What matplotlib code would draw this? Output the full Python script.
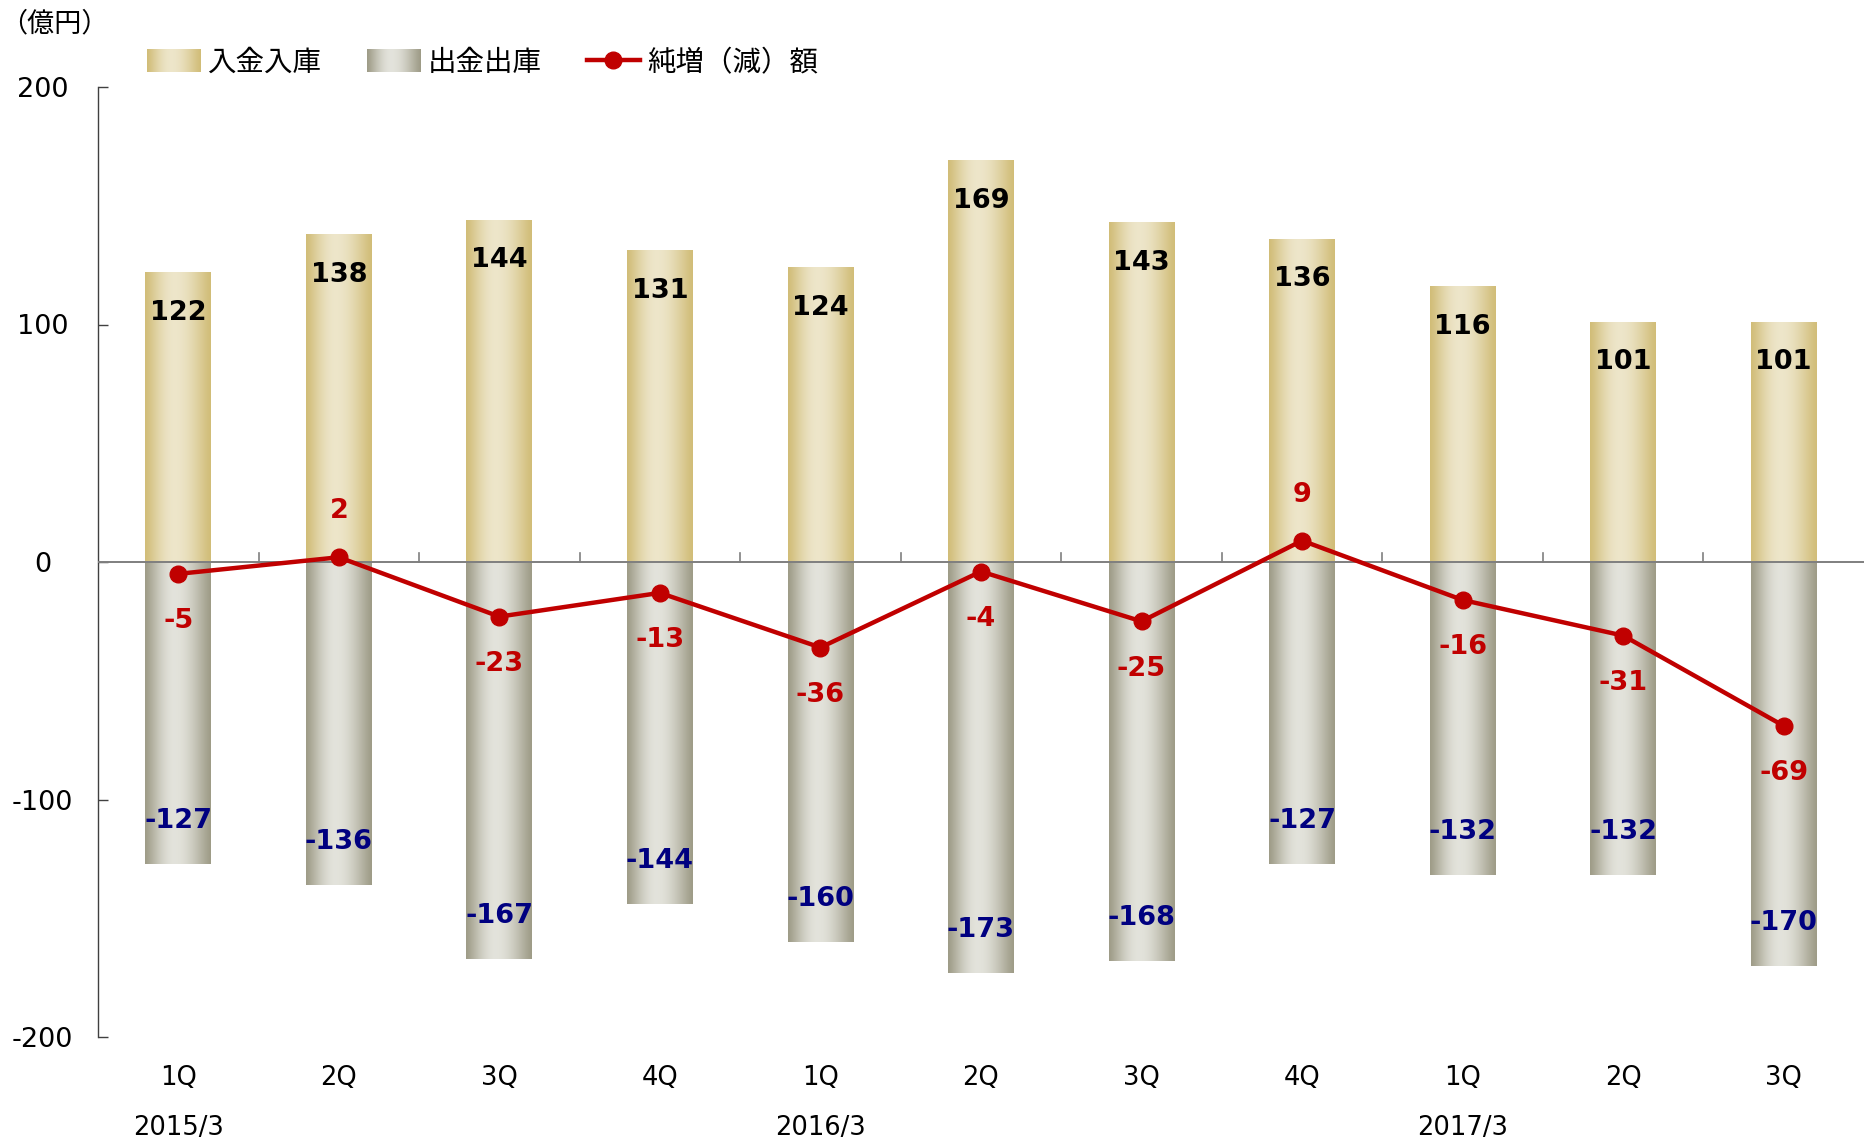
import numpy as np
import matplotlib
matplotlib.use("Agg")
import matplotlib.pyplot as plt
from matplotlib.patches import Patch
from matplotlib.lines import Line2D
from matplotlib.legend_handler import HandlerPatch
from matplotlib.image import BboxImage
from matplotlib.transforms import Bbox, TransformedBbox

plt.rcParams['font.family'] = ['DejaVu Sans', 'Noto Sans CJK JP']

quarters = ["1Q", "2Q", "3Q", "4Q", "1Q", "2Q", "3Q", "4Q", "1Q", "2Q", "3Q"]
years = {0: "2015/3", 4: "2016/3", 8: "2017/3"}
inflow = [122, 138, 144, 131, 124, 169, 143, 136, 116, 101, 101]
outflow = [-127, -136, -167, -144, -160, -173, -168, -127, -132, -132, -170]
net = [-5, 2, -23, -13, -36, -4, -25, 9, -16, -31, -69]

series_names = ["入金入庫", "出金出庫", "純増（減）額"]
gold_edge = np.array([0.82, 0.74, 0.47])
gold_mid = np.array([0.93, 0.90, 0.79])
gray_edge = np.array([0.62, 0.61, 0.53])
gray_mid = np.array([0.89, 0.89, 0.86])
red = "#C00000"
navy = "#000080"

W, H = 1864, 1144
fig = plt.figure(figsize=(W / 100, H / 100), dpi=100)
ax = fig.add_axes([98 / W, (H - 1037) / H, (1864 - 98) / W, 950 / H])
x = np.arange(len(quarters))


def gradient_img(edge, mid, n=200):
    t = np.linspace(0, 1, n)
    peak = 0.45
    d = np.where(t < peak, (peak - t) / peak, (t - peak) / (1 - peak))
    w = np.cos(d * np.pi / 2) ** 1.2
    img = edge[None, :] * (1 - w[:, None]) + mid[None, :] * w[:, None]
    return img[None, :, :]


gold_img = gradient_img(gold_edge, gold_mid)
gray_img = gradient_img(gray_edge, gray_mid)

bw = 0.41
bars_in = ax.bar(x, inflow, width=bw, color="none", zorder=2)
bars_out = ax.bar(x, outflow, width=bw, color="none", zorder=2)
for bars, img in ((bars_in, gold_img), (bars_out, gray_img)):
    for b in bars:
        x0, w = b.get_x(), b.get_width()
        y0, h = b.get_y(), b.get_height()
        ax.imshow(img, extent=(x0, x0 + w, min(y0, y0 + h), max(y0, y0 + h)),
                  aspect="auto", zorder=2, interpolation="bilinear")
ax.set_xlim(-0.5, len(quarters) - 0.5)
ax.set_ylim(-200, 200)

# zero line and its ticks
ax.axhline(0, color="#7f7f7f", lw=1.4, zorder=3)
for k in range(1, len(quarters)):
    ax.plot([k - 0.5, k - 0.5], [0, 4], color="#7f7f7f", lw=1.2, zorder=3)

# net line
ax.plot(x, net, color=red, lw=3.2, marker="o", markersize=12, zorder=5)

# labels
lab_fs = 19.5
for xi, v in zip(x, inflow):
    ax.annotate(str(v), (xi, v), xytext=(0, -29), textcoords="offset points",
                ha="center", va="center", fontsize=lab_fs, fontweight="bold",
                color="black", zorder=6)
for xi, v in zip(x, outflow):
    ax.annotate(str(v), (xi, v), xytext=(0, 31), textcoords="offset points",
                ha="center", va="center", fontsize=lab_fs, fontweight="bold",
                color=navy, zorder=6)
for xi, v in zip(x, net):
    off = 33 if v > 0 else -34
    ax.annotate(str(v), (xi, v), xytext=(0, off), textcoords="offset points",
                ha="center", va="center", fontsize=lab_fs, fontweight="bold",
                color=red, zorder=6)

# axes styling
for s in ("top", "right", "bottom"):
    ax.spines[s].set_visible(False)
ax.spines["left"].set_color("#404040")
ax.spines["left"].set_linewidth(1.0)
ax.set_yticks([-200, -100, 0, 100, 200])
ax.set_yticklabels(["-200", "-100", "0", "100", "200"])
ax.tick_params(axis="y", direction="in", length=7, width=1, color="#404040",
               labelsize=19.5, pad=40)
for lab in ax.get_yticklabels():
    lab.set_horizontalalignment("center")
ax.set_xticks([])

trans = ax.get_xaxis_transform()
for xi, q in zip(x, quarters):
    ax.annotate(q, (xi, 0), xycoords=trans, xytext=(0, -(1078 - 1037) * 0.72),
                textcoords="offset points", ha="center", va="center", fontsize=18.5)
for xi, yl in years.items():
    ax.annotate(yl, (xi, 0), xycoords=trans, xytext=(0, -(1128 - 1037) * 0.72),
                textcoords="offset points", ha="center", va="center", fontsize=18.5)

fig.text(0.0, 1 - 24 / H, "（億円）", fontsize=19.5, ha="left", va="center",
         family=["Noto Sans CJK JP", "DejaVu Sans"])


class GradHandler(HandlerPatch):
    def __init__(self, img):
        super().__init__()
        self.img = img

    def create_artists(self, legend, orig_handle, xdescent, ydescent, width,
                       height, fontsize, trans):
        bb = Bbox.from_bounds(-xdescent, -ydescent, width, height)
        tbb = TransformedBbox(bb, trans)
        im = BboxImage(tbb, interpolation="bilinear")
        im.set_data(self.img)
        return [im]


h1 = Patch(label=series_names[0])
h2 = Patch(label=series_names[1])
h3 = Line2D([0], [0], color=red, lw=3.2, marker="o", markersize=12,
            label=series_names[2])
leg = fig.legend(handles=[h1, h2, h3], loc="center left",
                 bbox_to_anchor=(147 / W, 1 - 63 / H), ncol=3, frameon=False,
                 handlelength=1.87, handleheight=0.85,
                 handletextpad=0.25, columnspacing=1.6,
                 borderpad=0, borderaxespad=0,
                 prop={"family": ["Noto Sans CJK JP", "DejaVu Sans"], "size": 20.5},
                 handler_map={h1: GradHandler(gold_img), h2: GradHandler(gray_img)})

fig.savefig("out.png", dpi=100)
